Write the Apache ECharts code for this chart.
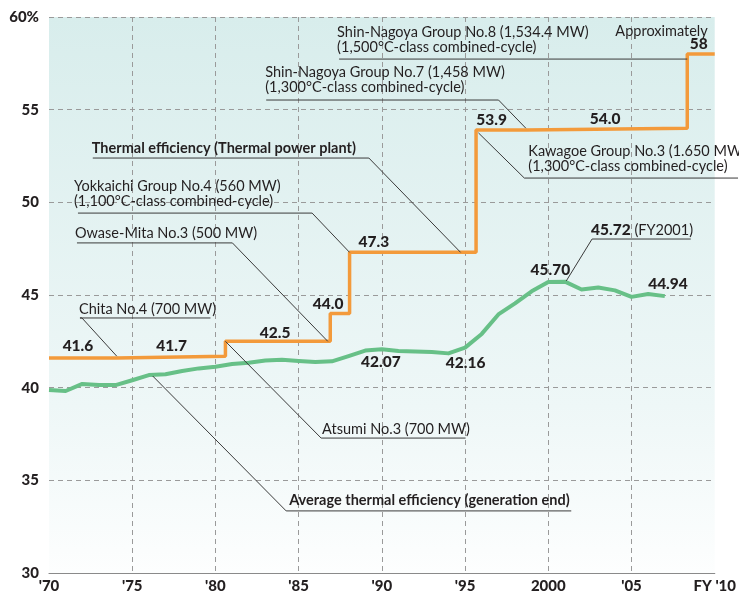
<!DOCTYPE html>
<html>
<head>
<meta charset="utf-8">
<script src="https://cdn.jsdelivr.net/npm/echarts@6/dist/echarts.min.js"></script>
<style>
  html, body { margin: 0; padding: 0; background: #ffffff; }
  #chart { width: 739px; height: 596px; }
</style>
</head>
<body>
<div id="chart"></div>
<script>
// Thermal efficiency of the newest thermal power plant (step line)
const plantYears = [1970, 1974.07, 1980.6, 1986.9, 1988.06, 1995.66, 1998.65, 2008.35, 2010];
const plantEff   = [41.6, 41.7, 42.5, 44.0, 47.3, 53.9, 54.0, 58, 58];

// Average thermal efficiency (generation end), by fiscal year
const avgYears = [1970, 1971, 1972, 1973, 1974, 1975, 1976, 1977, 1978, 1979,
                  1980, 1981, 1982, 1983, 1984, 1985, 1986, 1987, 1988, 1989,
                  1990, 1991, 1992, 1993, 1994, 1995, 1996, 1997, 1998, 1999,
                  2000, 2001, 2002, 2003, 2004, 2005, 2006, 2007];
const avgEff   = [39.87, 39.82, 40.2, 40.15, 40.14, 40.4, 40.68, 40.72, 40.9, 41.04,
                  41.13, 41.28, 41.35, 41.46, 41.51, 41.44, 41.38, 41.42, 41.7, 42.0,
                  42.07, 41.98, 41.95, 41.93, 41.85, 42.16, 42.9, 43.95, 44.55, 45.2,
                  45.70, 45.72, 45.3, 45.4, 45.25, 44.9, 45.05, 44.94];

// Axis ticks
const yTicks = [30, 35, 40, 45, 50, 55, 60];
const xTickLabels = ["'70", "'75", "'80", "'85", "'90", "'95", "2000", "'05", "FY '10"];

const FONT = 'Lato, "Noto Sans", sans-serif';
const INK = '#231f20';
const ORANGE = '#f39a3b';
const GREEN = '#67c087';
const TEXT_SIZE = '14.5px ';

const chart = echarts.init(document.getElementById('chart'), null, { renderer: 'canvas' });

chart.setOption({
  animation: false,
  backgroundColor: '#ffffff',
  grid: {
    left: 49, right: 22, top: 17, bottom: 23,
    show: true, borderWidth: 0,
    backgroundColor: new echarts.graphic.LinearGradient(0, 0, 0, 1, [
      { offset: 0, color: '#d8edec' },
      { offset: 0.7, color: '#eef7f7' },
      { offset: 1, color: '#fdfefe' }
    ])
  },
  xAxis: {
    type: 'value', min: 1970, max: 2010, interval: 5,
    axisLine: { show: true, lineStyle: { color: '#8a8a8a', width: 1.2 } },
    axisTick: { show: false },
    axisLabel: {
      margin: 6, color: INK, fontFamily: FONT, fontWeight: 900, fontSize: 15,
      formatter: v => xTickLabels[Math.round((v - 1970) / 5)]
    },
    splitLine: {
      show: true, showMinLine: false, showMaxLine: false,
      lineStyle: { color: '#9a9a9a', type: [5, 4], width: 1 }
    }
  },
  yAxis: {
    type: 'value', min: yTicks[0], max: yTicks[yTicks.length - 1], interval: 5,
    axisLine: { show: false },
    axisTick: { show: false },
    axisLabel: {
      margin: 10, color: INK, fontFamily: FONT, fontWeight: 900, fontSize: 15,
      formatter: v => (v === 60 ? '60%' : String(v))
    },
    splitLine: {
      show: true, showMinLine: false,
      lineStyle: { color: '#9a9a9a', type: [5, 4], width: 1 }
    }
  },
  series: [
    {
      name: 'Average thermal efficiency (generation end)',
      type: 'line',
      data: avgYears.map((y, i) => [y, avgEff[i]]),
      symbol: 'none',
      lineStyle: { color: GREEN, width: 4, join: 'round' },
      z: 3
    },
    {
      name: 'Thermal efficiency (Thermal power plant)',
      type: 'line',
      step: 'end',
      data: plantYears.map((y, i) => [y, plantEff[i]]),
      symbol: 'none',
      lineStyle: { color: ORANGE, width: 3.5 },
      z: 4
    }
  ]
});

// ---- annotations: callout texts with leader lines, positioned in data coordinates ----
const px = p => chart.convertToPixel({ gridIndex: 0 }, p);

const callouts = [
  { lines: ['Shin-Nagoya Group No.8 (1,534.4 MW)', '(1,500°C-class combined-cycle)'],
    at: [1987.31, 59.19], leader: [[1987.43, 57.73], [plantYears[7], 57.73]] },
  { lines: ['Shin-Nagoya Group No.7 (1,458 MW)', '(1,300°C-class combined-cycle)'],
    at: [1982.99, 57.03], leader: [[1983.05, 55.52], [1997.01, 55.52], [plantYears[6], plantEff[6]]] },
  { lines: ['Kawagoe Group No.3 (1.650 MW)', '(1,300°C-class combined-cycle)'],
    at: [1998.80, 52.77], leader: [[2011.4, 51.31], [1998.56, 51.31], [1995.8, 53.75]] },
  { lines: ['Thermal efficiency (Thermal power plant)'], bold: true,
    at: [1972.57, 52.93], leader: [[1972.63, 52.39], [1989.22, 52.39], [1994.73, plantEff[4]]] },
  { lines: ['Yokkaichi Group No.4 (560 MW)', '(1,100°C-class combined-cycle)'],
    at: [1971.50, 50.88], leader: [[1971.74, 49.42], [1985.81, 49.42], [plantYears[4], plantEff[4]]] },
  { lines: ['Owase-Mita No.3 (500 MW)'],
    at: [1971.56, 48.35], leader: [[1971.68, 47.81], [1981.02, 47.81], [1986.75, plantEff[2]]] },
  { lines: ['Chita No.4 (700 MW)'],
    at: [1971.80, 44.24], leader: [[1979.70, 43.76], [1971.86, 43.76], [1971.98, 43.76], [plantYears[1], plantEff[1]]] },
  { lines: ['Atsumi No.3 (700 MW)'],
    at: [1986.41, 37.77], leader: [[1995.03, 37.28], [1986.35, 37.28], [plantYears[2], plantEff[2]]] },
  { lines: ['Average thermal efficiency (generation end)'], bold: true,
    at: [1984.43, 33.94], leader: [[2001.38, 33.35], [1984.25, 33.35], [1976.23, 40.63]] }
];

// value labels for the step line (index into plantEff) and the average line (by fiscal year)
const plantLabelAt = [
  { i: 0, at: [1971.74, 42.25] },
  { i: 1, at: [1977.37, 42.25] },
  { i: 2, at: [1983.59, 42.95] },
  { i: 3, at: [1986.77, 44.51] },
  { i: 4, at: [1989.52, 47.86] },
  { i: 5, at: [1996.59, 54.44] },
  { i: 6, at: [2003.41, 54.49] }
];
const avgLabelAt = [
  { year: 1990, at: [1989.94, 41.38] },
  { year: 1995, at: [1995.03, 41.33] },
  { year: 2000, at: [2000.12, 46.35] },
  { year: 2007, at: [2007.19, 45.59] }
];

const LINE_H = 15.5;
const elements = [];

callouts.forEach(c => {
  const pts = c.leader.map(px);
  elements.push({
    type: 'polyline', silent: true, z: 10,
    shape: { points: pts },
    style: { stroke: '#3a3a3a', lineWidth: 1, fill: null }
  });
  const a = px(c.at);
  c.lines.forEach((t, k) => {
    elements.push({
      type: 'text', silent: true, z: 11,
      x: a[0], y: a[1] + k * LINE_H,
      style: {
        text: t, fill: INK,
        font: (c.bold ? 'bold ' : '') + TEXT_SIZE + FONT,
        textAlign: 'left', textVerticalAlign: 'middle',
        align: 'left', verticalAlign: 'middle'
      }
    });
  });
});

function valueText(x, y, text, align) {
  elements.push({
    type: 'text', silent: true, z: 11, x: x, y: y,
    style: {
      text: text, fill: INK, font: '900 15.5px ' + FONT,
      textAlign: align || 'center', textVerticalAlign: 'middle',
      align: align || 'center', verticalAlign: 'middle'
    }
  });
}

plantLabelAt.forEach(l => {
  const p = px(l.at);
  valueText(p[0], p[1], plantEff[l.i].toFixed(1));
});
avgLabelAt.forEach(l => {
  const p = px(l.at);
  valueText(p[0], p[1], avgEff[avgYears.indexOf(l.year)].toFixed(2));
});

// final step: "Approximately 58"
{
  const p1 = px([2009.58, 59.25]);
  elements.push({
    type: 'text', silent: true, z: 11, x: p1[0], y: p1[1],
    style: { text: 'Approximately', fill: INK, font: TEXT_SIZE + FONT,
      textAlign: 'right', textVerticalAlign: 'middle', align: 'right', verticalAlign: 'middle' }
  });
  const p2 = px([2009.58, 58.54]);
  valueText(p2[0], p2[1], String(plantEff[7]), 'right');
}

// FY2001 peak of the average line
{
  const k = avgYears.indexOf(2001);
  const p = px([2002.57, 48.51]);
  elements.push({
    type: 'text', silent: true, z: 11, x: p[0], y: p[1],
    style: {
      text: '{b|' + avgEff[k].toFixed(2) + '} {r|(FY2001)}',
      fill: INK, font: TEXT_SIZE + FONT,
      textAlign: 'left', textVerticalAlign: 'middle', align: 'left', verticalAlign: 'middle',
      rich: {
        b: { font: '900 15.5px ' + FONT, fill: INK },
        r: { font: TEXT_SIZE + FONT, fill: INK }
      }
    }
  });
  elements.push({
    type: 'polyline', silent: true, z: 10,
    shape: { points: [[2008.56, 48.02], [2002.63, 48.02], [avgYears[k] + 0.08, avgEff[k] + 0.04]].map(px) },
    style: { stroke: '#3a3a3a', lineWidth: 1, fill: null }
  });
}

chart.setOption({ graphic: { elements: elements } });
</script>
</body>
</html>
